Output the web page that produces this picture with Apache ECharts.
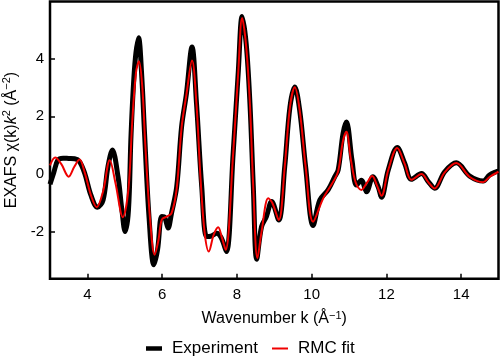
<!DOCTYPE html>
<html>
<head>
<meta charset="utf-8">
<script src="https://cdn.jsdelivr.net/npm/echarts@6/dist/echarts.min.js"></script>
<style>
html,body{margin:0;padding:0;background:#fff;}
#chart{width:500px;height:364px;}
</style>
</head>
<body>
<div id="chart"></div>
<script>
// Experiment (black thick)
const kExp = [3.00,3.10,3.21,3.35,3.50,3.66,3.79,3.93,4.10,4.27,4.42,4.55,4.67,4.82,4.92,5.01,5.10,5.17,5.27,5.37,5.45,5.53,5.65,5.78,5.88,5.99,6.07,6.16,6.25,6.39,6.52,6.65,6.80,6.92,7.06,7.19,7.30,7.46,7.58,7.72,7.90,8.04,8.14,8.25,8.35,8.44,8.53,8.66,8.79,8.93,9.12,9.28,9.42,9.55,9.68,9.84,10.04,10.22,10.44,10.62,10.71,10.84,10.93,11.08,11.20,11.33,11.47,11.64,11.78,11.87,12.05,12.29,12.49,12.67,12.94,13.12,13.29,13.56,13.87,14.23,14.59,14.76,14.94,15.00];
const yExp = [-0.35,0.05,0.48,0.55,0.54,0.53,0.43,0.02,-0.75,-1.15,-0.90,0.25,0.83,-0.09,-1.20,-1.99,-1.24,1.41,3.80,4.72,3.50,1.40,-1.50,-3.14,-2.60,-1.47,-1.50,-1.87,-1.36,-0.44,1.63,2.78,4.40,2.44,-0.44,-2.16,-2.15,-2.05,-2.20,-2.68,0.71,3.59,5.45,4.50,2.44,-0.44,-2.95,-1.82,-1.47,-0.95,-1.59,0.25,2.32,3.01,2.21,0.25,-1.78,-0.90,-0.55,-0.09,0.14,1.40,1.80,0.48,-0.38,-0.21,-0.61,-0.09,-0.44,-0.80,0.14,0.92,0.37,-0.18,0.02,-0.26,-0.49,0.08,0.39,-0.07,-0.24,-0.03,0.08,0.10];
// RMC fit (red thin)
const kFit = [3.00,3.14,3.30,3.50,3.65,3.79,3.93,4.10,4.25,4.42,4.60,4.75,4.95,5.10,5.20,5.30,5.38,5.47,5.55,5.68,5.80,5.90,5.99,6.12,6.25,6.39,6.52,6.65,6.80,6.92,7.03,7.14,7.25,7.38,7.50,7.60,7.70,7.90,8.04,8.14,8.25,8.35,8.44,8.55,8.66,8.84,8.95,9.12,9.28,9.42,9.55,9.68,9.84,10.04,10.31,10.58,10.71,10.84,10.93,11.05,11.18,11.33,11.48,11.62,11.75,11.87,12.05,12.29,12.49,12.67,12.94,13.12,13.29,13.56,13.87,14.23,14.59,14.76,15.00];
const yFit = [0.30,0.57,0.35,-0.09,0.25,0.50,0.05,-0.75,-1.15,-0.60,0.48,-0.30,-1.49,-0.50,1.80,3.50,3.90,3.00,1.00,-1.60,-2.79,-2.30,-1.58,-1.47,-1.36,-0.50,1.60,2.75,3.93,2.40,-0.20,-2.05,-2.68,-2.10,-1.84,-2.20,-2.62,0.70,3.60,5.40,4.40,2.40,-0.50,-2.91,-2.00,-0.84,-1.00,-1.59,0.25,2.32,3.00,2.21,0.25,-1.65,-0.84,-0.26,0.10,1.15,1.46,0.50,-0.30,-0.55,-0.30,-0.07,-0.40,-0.75,0.14,0.90,0.35,-0.20,0.00,-0.28,-0.50,0.06,0.38,-0.10,-0.28,-0.10,0.08];
const seriesNames = ['Experiment','RMC fit'];

const zip = (a,b) => a.map((v,i)=>[v,b[i]]);
const chart = echarts.init(document.getElementById('chart'), null, {renderer:'canvas'});
const FONT = 'Liberation Sans, Arial, sans-serif';
const RED = '#f00000';
chart.setOption({
  animation:false,
  backgroundColor:'#fff',
  grid:{left:50,right:1.5,top:1.5,bottom:85.3,show:true,borderColor:'#000',borderWidth:2.5,backgroundColor:'transparent',
    containLabel:false,outerBoundsMode:'none'},
  xAxis:{type:'value',min:3,max:15,splitNumber:6,
    name:'Wavenumber k (Å{s|−1})',nameLocation:'middle',nameGap:32,
    nameTextStyle:{fontFamily:FONT,fontSize:16,color:'#000',rich:{s:{fontSize:11,verticalAlign:'top',lineHeight:10,fontFamily:FONT,color:'#000'}}},
    axisLine:{show:false,onZero:false},splitLine:{show:false},
    axisTick:{inside:true,length:5,lineStyle:{color:'#000',width:1.5}},
    axisLabel:{showMinLabel:false,showMaxLabel:false,fontFamily:FONT,fontSize:15,color:'#000',margin:9}},
  yAxis:{type:'value',min:-3.62,max:5.97,splitNumber:5,
    name:'{a|EXAFS χ(k)}{i|k}{s|2}{a| (Å}{s|−2}{a|)}',nameLocation:'middle',nameGap:27,nameRotate:90,
    nameTextStyle:{fontFamily:FONT,fontSize:16,color:'#000',rich:{
      a:{fontFamily:FONT,fontSize:16,color:'#000',lineHeight:20},
      i:{fontFamily:FONT,fontSize:16,fontStyle:'italic',color:'#000',lineHeight:20},
      s:{fontFamily:FONT,fontSize:11,color:'#000',verticalAlign:'top',lineHeight:12}}},
    axisLine:{show:false,onZero:false},splitLine:{show:false},
    axisTick:{inside:true,length:5,lineStyle:{color:'#000',width:1.5}},
    axisLabel:{showMinLabel:false,showMaxLabel:false,fontFamily:FONT,fontSize:15,color:'#000',margin:6}},
  legend:{top:340,left:146,padding:0,itemWidth:16,itemHeight:10,itemGap:14,symbolKeepAspect:true,
    textStyle:{fontFamily:FONT,fontSize:17,color:'#000',padding:[0,0,0,5]},
    data:[
      {name:seriesNames[0],icon:'path://M0,0L16,0L16,4.5L0,4.5Z',itemStyle:{color:'#000'}},
      {name:seriesNames[1],icon:'path://M0,0L16,0L16,2L0,2Z',itemStyle:{color:RED}}]},
  series:[
    {name:seriesNames[0],type:'line',data:zip(kExp,yExp),smooth:0.35,symbol:'none',
     lineStyle:{color:'#000',width:5},itemStyle:{color:'#000'},z:2},
    {name:seriesNames[1],type:'line',data:zip(kFit,yFit),smooth:0.35,symbol:'none',
     lineStyle:{color:RED,width:2},itemStyle:{color:RED},z:3}
  ]
});
</script>
</body>
</html>
